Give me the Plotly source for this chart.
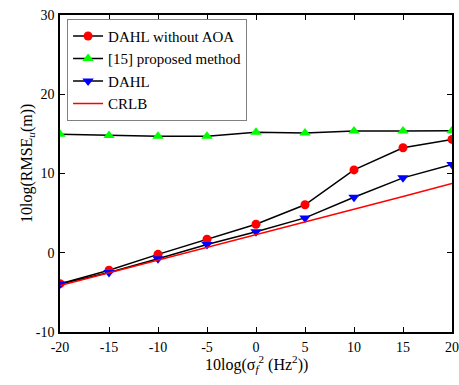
import plotly.graph_objects as go

x_vals = [-20, -15, -10, -5, 0, 5, 10, 15, 20]
dahl_no_aoa = [-3.9, -2.2, -0.2, 1.7, 3.6, 6.05, 10.45, 13.25, 14.3]
proposed_15 = [14.95, 14.8, 14.7, 14.7, 15.2, 15.1, 15.35, 15.35, 15.4]
dahl = [-3.95, -2.5, -0.75, 1.05, 2.65, 4.4, 7.0, 9.45, 11.15]
crlb = [-4.15, -2.55, -0.95, 0.65, 2.3, 3.9, 5.5, 7.1, 8.75]

x_ticks = [-20, -15, -10, -5, 0, 5, 10, 15, 20]
y_ticks = [-10, 0, 10, 20, 30]

x_title = "10log(σ<sub><i>f</i></sub><sup>2</sup> (Hz<sup>2</sup>))"
y_title = "10log(RMSE<sub><i>u</i></sub>(m))"

font_family = "Liberation Serif, Times New Roman, serif"

fig = go.Figure()
fig.add_trace(go.Scatter(x=x_vals, y=dahl_no_aoa, mode="lines+markers", name="DAHL without AOA",
                         line=dict(color="black", width=1.5),
                         marker=dict(symbol="circle", color="#ff0000", size=9)))
fig.add_trace(go.Scatter(x=x_vals, y=proposed_15, mode="lines+markers", name="[15] proposed method",
                         line=dict(color="black", width=1.5),
                         marker=dict(symbol="triangle-up", color="#00ff00", size=10)))
fig.add_trace(go.Scatter(x=x_vals, y=dahl, mode="lines+markers", name="DAHL",
                         line=dict(color="black", width=1.5),
                         marker=dict(symbol="triangle-down", color="#0000ff", size=10)))
fig.add_trace(go.Scatter(x=x_vals, y=crlb, mode="lines", name="CRLB",
                         line=dict(color="#ff0000", width=1.5)))

axis_common = dict(showline=True, linecolor="black", linewidth=1.5, mirror="ticks",
                   ticks="inside", ticklen=5, tickcolor="black", tickwidth=1,
                   showgrid=False, zeroline=False, automargin=False,
                   ticklabeloverflow="allow",
                   tickfont=dict(family=font_family, size=14, color="black"))

fig.update_xaxes(range=[-20, 20], tickvals=x_ticks, ticktext=[str(v) for v in x_ticks],
                 ticklabelstandoff=1, **axis_common)
fig.update_yaxes(range=[-10, 30], tickvals=y_ticks, ticktext=[str(v) for v in y_ticks],
                 ticklabelstandoff=1, **axis_common)

fig.add_annotation(text=x_title, xref="paper", yref="paper", x=0.5, y=0,
                   xanchor="center", yanchor="middle", yshift=-32, showarrow=False,
                   font=dict(family=font_family, size=16, color="black"))
fig.add_annotation(text=y_title, xref="paper", yref="paper", x=0, y=0.53,
                   xanchor="center", yanchor="middle", xshift=-32, textangle=-90,
                   showarrow=False, font=dict(family=font_family, size=16, color="black"))

fig.update_layout(
    width=459, height=385,
    margin=dict(l=60, r=7, t=15, b=53),
    paper_bgcolor="white", plot_bgcolor="white",
    font=dict(family=font_family, color="black"),
    legend=dict(x=0.018, y=0.988, xanchor="left", yanchor="top",
                bgcolor="white", bordercolor="#808080", borderwidth=1,
                font=dict(family=font_family, size=15, color="black"),
                tracegroupgap=0, itemwidth=30),
)

# remove the default 8px page margin so the figure fills the window exactly
fig.write_html("out.html", config={"displayModeBar": False},
               post_script="document.body.style.margin='0';document.body.style.overflow='hidden';")
